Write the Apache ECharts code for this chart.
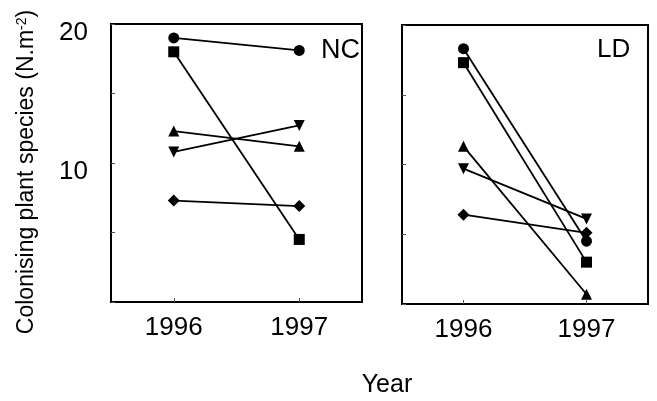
<!DOCTYPE html>
<html>
<head>
<meta charset="utf-8">
<script src="https://cdn.jsdelivr.net/npm/echarts@6/dist/echarts.min.js"></script>
<style>html,body{margin:0;padding:0;background:#fff;}#c{width:657px;height:401px;}</style>
</head>
<body>
<div id="c"></div>
<script>
var years = ['1996', '1997'];
var yTicks = [10, 20];
// NC panel
var ncCircle = [19.0, 18.1];
var ncSquare = [18.0, 4.5];
var ncTriUp = [12.3, 11.2];
var ncTriDown = [10.8, 12.7];
var ncDiamond = [7.3, 6.9];
// LD panel
var ldCircle = [18.3, 4.5];
var ldSquare = [17.3, 3.0];
var ldTriUp = [11.3, 0.7];
var ldTriDown = [9.7, 6.1];
var ldDiamond = [6.4, 5.1];

var FONT = '"Liberation Sans", Arial, Helvetica, sans-serif';
var chart = echarts.init(document.getElementById('c'), null, {renderer: 'canvas'});

function xAxis(idx) {
  return {
    type: 'category', gridIndex: idx, data: years, boundaryGap: true,
    axisLine: {show: true, lineStyle: {color: '#000', width: 2}},
    axisTick: {show: true, alignWithLabel: true, inside: true, length: 4, lineStyle: {color: '#555', width: 1}},
    axisLabel: {color: '#000', fontSize: 26, fontFamily: FONT, margin: 13},
    splitLine: {show: false}
  };
}
function yAxis(idx, showLabels) {
  return {
    type: 'value', gridIndex: idx, min: 0, max: 20, interval: 5,
    axisLine: {show: true, lineStyle: {color: '#000', width: 2}},
    axisTick: {show: true, inside: true, length: 4, lineStyle: {color: '#555', width: 1}},
    axisLabel: {
      show: showLabels, color: '#000', fontSize: 26, fontFamily: FONT, margin: 23,
      verticalAlign: 'top', lineHeight: 17,
      formatter: function (v) { return yTicks.indexOf(v) >= 0 ? String(v) : ''; }
    },
    splitLine: {show: false}
  };
}
function ser(idx, data, symbol, size, rotate) {
  return {
    type: 'line', xAxisIndex: idx, yAxisIndex: idx, data: data,
    symbol: symbol, symbolSize: size, symbolRotate: rotate || 0, showAllSymbol: true,
    lineStyle: {color: '#000', width: 1.8},
    itemStyle: {color: '#000', borderWidth: 0},
    clip: false, animation: false, silent: true
  };
}
var series = [];
[[ncCircle, ncSquare, ncTriUp, ncTriDown, ncDiamond], [ldCircle, ldSquare, ldTriUp, ldTriDown, ldDiamond]].forEach(function (g, i) {
  series.push(ser(i, g[0], 'circle', 11));
  series.push(ser(i, g[1], 'rect', 11));
  series.push(ser(i, g[2], 'triangle', 11));
  series.push(ser(i, g[3], 'triangle', 11, 180));
  series.push(ser(i, g[4], 'diamond', 12));
});

chart.setOption({
  backgroundColor: '#fff',
  animation: false,
  grid: [
    {left: 111, top: 24, width: 251, height: 278, show: true, borderColor: '#000', borderWidth: 2, backgroundColor: 'transparent'},
    {left: 402, top: 25, width: 246, height: 279, show: true, borderColor: '#000', borderWidth: 2, backgroundColor: 'transparent'}
  ],
  xAxis: [xAxis(0), xAxis(1)],
  yAxis: [yAxis(0, true), yAxis(1, false)],
  series: series,
  graphic: [
    {type: 'text', left: 321, top: 37, style: {text: 'NC', fontSize: 27, fontFamily: FONT, fill: '#000'}},
    {type: 'text', left: 597, top: 37, style: {text: 'LD', fontSize: 26, fontFamily: FONT, fill: '#000'}},
    {type: 'text', x: 387, y: 385, style: {text: 'Year', fontSize: 25, fontFamily: FONT, fill: '#000', align: 'center', verticalAlign: 'middle'}},
    {type: 'text', x: 27, y: 172, rotation: Math.PI / 2,
      style: {
        text: '{a|Colonising plant species (N.m}{s|-2}{a|)}',
        align: 'center', verticalAlign: 'middle',
        rich: {
          a: {fontSize: 23, fontFamily: FONT, fill: '#000', color: '#000'},
          s: {fontSize: 14, fontFamily: FONT, fill: '#000', color: '#000', verticalAlign: 'top', padding: [0, 0, 10, 0]}
        }
      }}
  ]
});
</script>
</body>
</html>
